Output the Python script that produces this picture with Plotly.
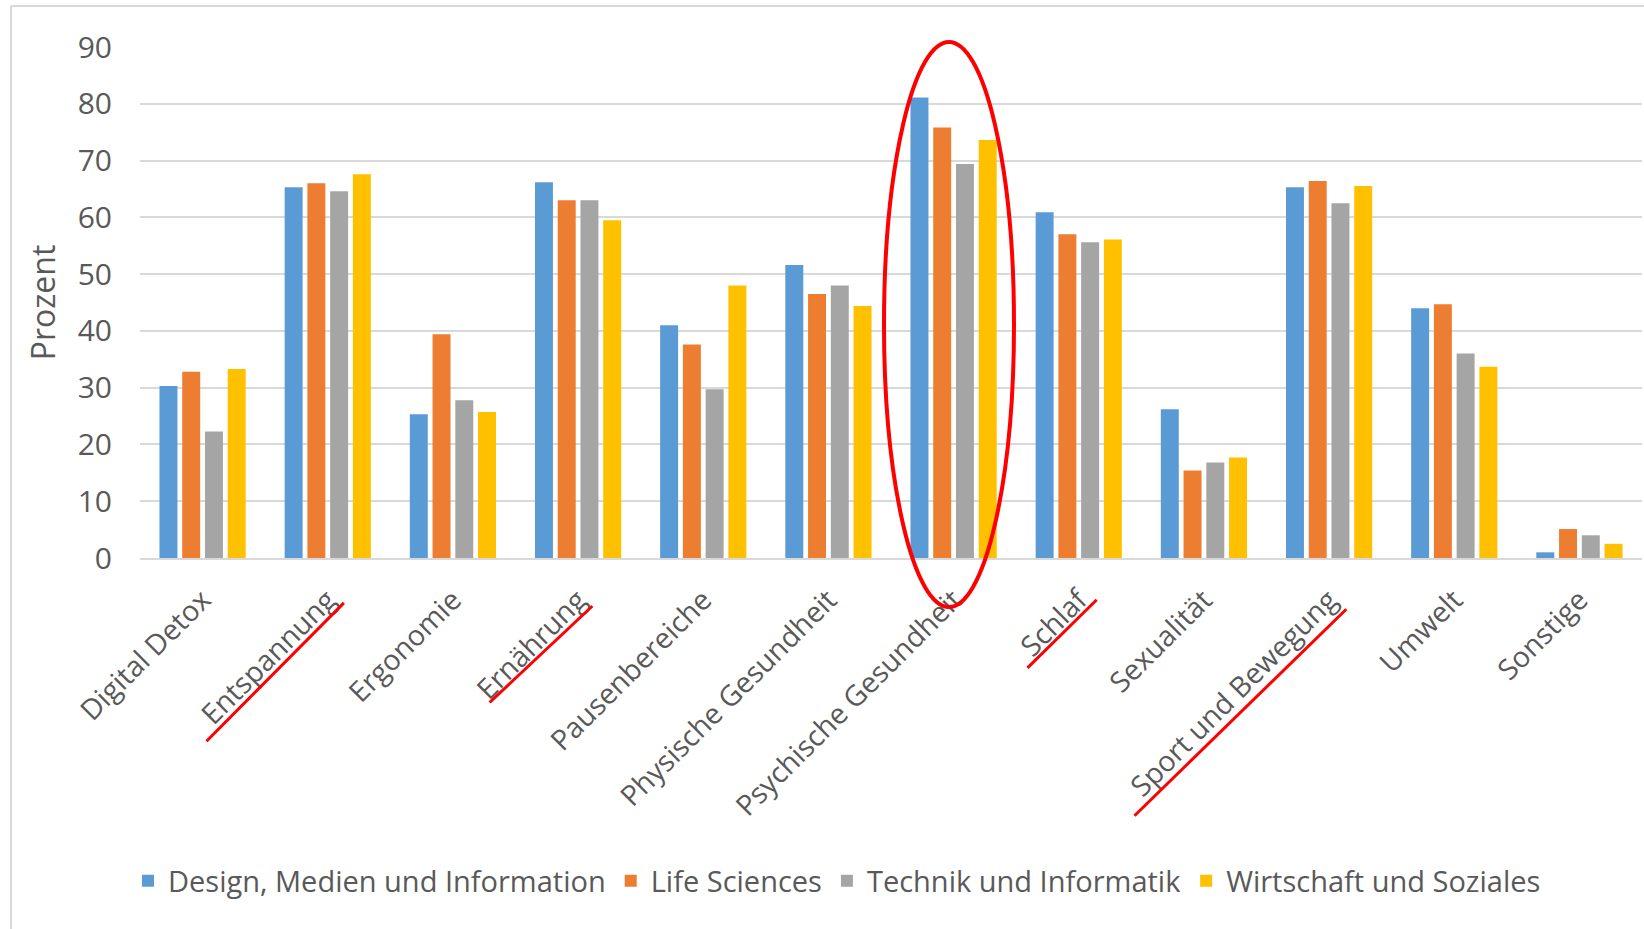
import plotly.graph_objects as go

categories = ["Digital Detox", "Entspannung", "Ergonomie", "Ernährung", "Pausenbereiche",
              "Physische Gesundheit", "Psychische Gesundheit", "Schlaf", "Sexualität",
              "Sport und Bewegung", "Umwelt", "Sonstige"]
design = [30.3, 65.3, 25.3, 66.2, 41.0, 51.6, 81.1, 60.9, 26.2, 65.3, 44.0, 1.0]
life = [32.8, 66.0, 39.4, 63.0, 37.6, 46.5, 75.8, 57.0, 15.4, 66.4, 44.7, 5.1]
technik = [22.3, 64.6, 27.8, 63.0, 29.7, 48.0, 69.4, 55.6, 16.8, 62.5, 36.0, 4.0]
wirtschaft = [33.3, 67.6, 25.7, 59.5, 48.0, 44.4, 73.6, 56.1, 17.7, 65.5, 33.7, 2.5]
series_names = ["Design, Medien und Information", "Life Sciences",
                "Technik und Informatik", "Wirtschaft und Soziales"]
colors = ["#5B9BD5", "#ED7D31", "#A5A5A5", "#FFC000"]

W_FIG, H_FIG = 1644, 929
L, R, T, B = 140, 2, 47, 371
PW = W_FIG - L - R
PH = H_FIG - T - B
FONT = "Open Sans"
TXT = "#595959"


def px(x):
    return (x - L) / PW


def py(y):
    return (H_FIG - B - y) / PH


fig = go.Figure()
for name, vals, col in zip(series_names, [design, life, technik, wirtschaft], colors):
    fig.add_trace(go.Bar(name=name, x=categories, y=vals, marker_color=col,
                         marker_line_width=0))

shapes = []
# chart frame (left and top border)
shapes.append(dict(type="line", xref="paper", yref="paper", x0=px(11), x1=px(11),
                   y0=py(6), y1=py(935), line=dict(color="#D9D9D9", width=2)))
shapes.append(dict(type="line", xref="paper", yref="paper", x0=px(11), x1=px(1650),
                   y0=py(6), y1=py(6), line=dict(color="#D9D9D9", width=2)))
# red ellipse around Psychische Gesundheit
shapes.append(dict(type="circle", xref="paper", yref="paper", x0=px(884), x1=px(1014),
                   y0=py(607), y1=py(42), line=dict(color="#FF0000", width=4)))
# red underlines
for (x0, y0, x1, y1) in [(206.5, 741.3, 343.9, 602.9), (489.6, 702.5, 592.4, 606.0),
                         (1027.5, 667.9, 1096.7, 599.7), (1134.5, 815.7, 1346.3, 609.2)]:
    shapes.append(dict(type="line", xref="paper", yref="paper", x0=px(x0), y0=py(y0),
                       x1=px(x1), y1=py(y1), line=dict(color="#FF0000", width=3)))

fig.update_layout(
    width=W_FIG, height=H_FIG,
    margin=dict(l=L, r=R, t=T, b=B, autoexpand=False),
    paper_bgcolor="white", plot_bgcolor="white",
    barmode="group", bargap=0.273, bargroupgap=0.21,
    font=dict(family=FONT, color=TXT, size=28),
    showlegend=True,
    legend=dict(orientation="h", x=px(837), xanchor="center", y=py(881), yanchor="middle",
                font=dict(size=29, color=TXT, family=FONT), itemwidth=30,
                traceorder="normal"),
    shapes=shapes,
    xaxis=dict(tickangle=-45, tickfont=dict(size=28.5, color=TXT), showline=True,
               linecolor="#D9D9D9", linewidth=2, ticks="", showgrid=False,
               ticklabelstandoff=12),
    yaxis=dict(range=[0, 90], dtick=10, tickfont=dict(size=30, color=TXT),
               gridcolor="#D9D9D9", gridwidth=2, zeroline=False, ticks="",
               ticklabelstandoff=27,
               title=dict(text="Prozent", font=dict(size=32, color=TXT), standoff=12)),
)

fig.write_html("out.html")
